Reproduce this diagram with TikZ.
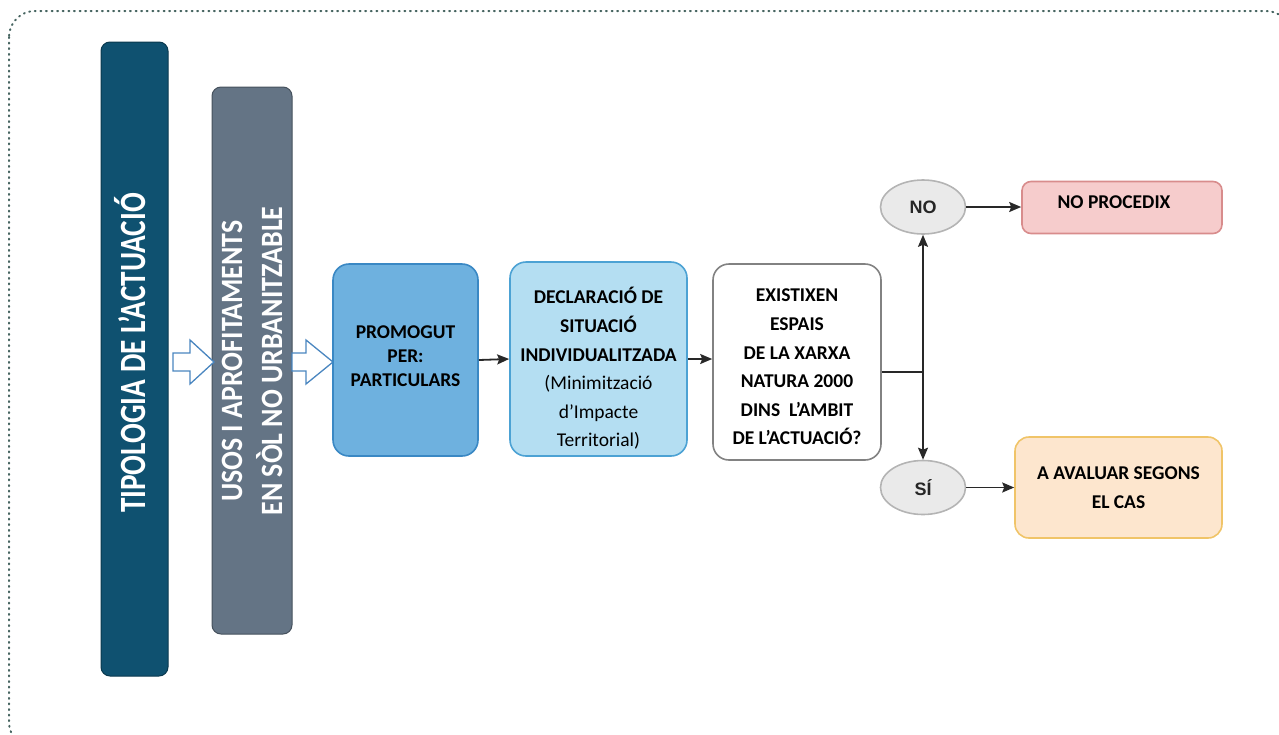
\documentclass[tikz,border=0pt]{standalone}
\usepackage{fontspec}
\usepackage{graphicx}
\setmainfont{Carlito}
\newfontfamily\ovalfont{Liberation Sans}
\usetikzlibrary{shapes.geometric, arrows.meta, positioning, calc}
\definecolor{frameline}{RGB}{70,100,96}
\definecolor{tipoblue}{RGB}{15,81,112}
\definecolor{usosgray}{RGB}{100,116,133}
\definecolor{hollowline}{RGB}{74,134,192}
\definecolor{promofill}{RGB}{110,177,223}
\definecolor{promoline}{RGB}{58,136,196}
\definecolor{declfill}{RGB}{180,222,242}
\definecolor{declline}{RGB}{76,162,212}
\definecolor{existline}{RGB}{130,130,130}
\definecolor{ovalfill}{RGB}{234,234,234}
\definecolor{ovalline}{RGB}{180,180,180}
\definecolor{nofill}{RGB}{246,204,204}
\definecolor{noline}{RGB}{216,140,140}
\definecolor{avalfill}{RGB}{253,230,206}
\definecolor{avalline}{RGB}{240,196,104}
\definecolor{flowline}{RGB}{40,40,40}

\begin{document}
\begin{tikzpicture}[x=1pt, y=-1pt,
    bar/.style={draw, rounded corners=9pt, line width=1pt, inner sep=0pt},
    bartext/.style={rotate=90, text=white, align=center, inner sep=0pt},
    box/.style={draw, rounded corners=16pt, line width=1.6pt, inner sep=0pt},
    boxtext/.style={align=center, inner sep=0pt, font=\fontsize{19.5}{28.6}\selectfont\bfseries},
    oval/.style={ellipse, draw=ovalline, fill=ovalfill, line width=1.6pt, minimum width=85pt, minimum height=54pt, inner sep=0pt, font=\ovalfont\fontsize{18}{20}\selectfont\bfseries, text=black!85},
    hollow/.style={draw=hollowline, fill=white, line width=1.3pt, line join=miter},
    flow/.style={-{Stealth[length=12pt,width=10pt,inset=2pt]}, line width=1.8pt, color=flowline}]

    % page and frame
    \useasboundingbox (0,0) rectangle (1279,734);
    \begin{scope}
        \clip (0,0) rectangle (1279,734);
        \draw[frameline, line width=2pt, line cap=round, dash pattern=on 1pt off 4.6pt, rounded corners=26pt]
            (9,11) rectangle (1292,748);
    \end{scope}

    % vertical bars
    \node[bar, fill=tipoblue, draw=tipoblue!70!black, minimum width=67pt, minimum height=634pt] (tipo) at (134.5,359) {};
    \node[bartext, font=\fontsize{37}{40}\selectfont\bfseries] (tipotxt) at (130,353)
        {\scalebox{0.79}[1]{TIPOLOGIA DE L’ACTUACIÓ}};
    \node[bar, fill=usosgray, draw=usosgray!70!black, minimum width=80pt, minimum height=547pt] (usos) at (252,360.5) {};
    \node[bartext, font=\fontsize{31}{40}\selectfont\bfseries] (usostxt) at (252,361)
        {\scalebox{0.9}[1]{USOS I APROFITAMENTS}\\\scalebox{0.9}[1]{EN SÒL NO URBANITZABLE}};

    % hollow arrows
    \draw[hollow] (173,353) -- (190,353) -- (190,340) -- (214,362) -- (190,384) -- (190,371) -- (173,371) -- cycle;
    \draw[hollow] (292,353) -- (306,353) -- (306,340) -- (333,362) -- (306,384) -- (306,371) -- (292,371) -- cycle;

    % boxes
    \node[box, fill=promofill, draw=promoline, minimum width=145pt, minimum height=192pt] (promo) at (405.5,360) {};
    \node[boxtext, font=\fontsize{19.5}{24}\selectfont\bfseries] (promotxt) at (405.5,356) {PROMOGUT\\PER:\\PARTICULARS};

    \node[box, fill=declfill, draw=declline, minimum width=177pt, minimum height=194pt] (decl) at (598.5,359) {};
    \node[boxtext] (decltxt) at (598.5,368.5)
        {DECLARACIÓ DE\\SITUACIÓ\\INDIVIDUALITZADA\\\mdseries(Minimització\\\mdseries d’Impacte\\\mdseries Territorial)};

    \node[box, fill=white, draw=existline, minimum width=168pt, minimum height=196pt] (exist) at (797,362) {};
    \node[boxtext] (existtxt) at (797,367)
        {EXISTIXEN\\ESPAIS\\DE LA XARXA\\NATURA 2000\\DINS\ \ L’AMBIT\\DE L’ACTUACIÓ?};

    % decision
    \coordinate (jn) at (923,372);
    \node[oval] (no) at (923,207) {NO};
    \node[oval] (si) at (923,487.5) {SÍ};

    \node[box, rounded corners=9pt, fill=nofill, draw=noline, minimum width=200pt, minimum height=52pt] (noproc) at (1122,207.5) {};
    \node[boxtext] (noproctxt) at (1114,202) {NO PROCEDIX};
    \node[box, rounded corners=14pt, fill=avalfill, draw=avalline, minimum width=207pt, minimum height=101pt, align=center,
        font=\fontsize{19.5}{29}\selectfont\bfseries] (aval) at (1118.5,487.5) {A AVALUAR SEGONS\\EL CAS};

    % connectors
    \draw[flow] (promo.east) -- (decl.west);
    \draw[flow] (decl.west -| decl.east) -- (exist.west |- decl.east);
    \draw[line width=1.8pt, flowline] (exist.east |- jn) -- (jn);
    \draw[flow] (jn) -- (no.south);
    \draw[flow] (jn) -- (si.north);
    \draw[flow] (no.east) -- (no.east -| noproc.west);
    \draw[flow] (si.east) -- (aval.west);
\end{tikzpicture}
\end{document}
